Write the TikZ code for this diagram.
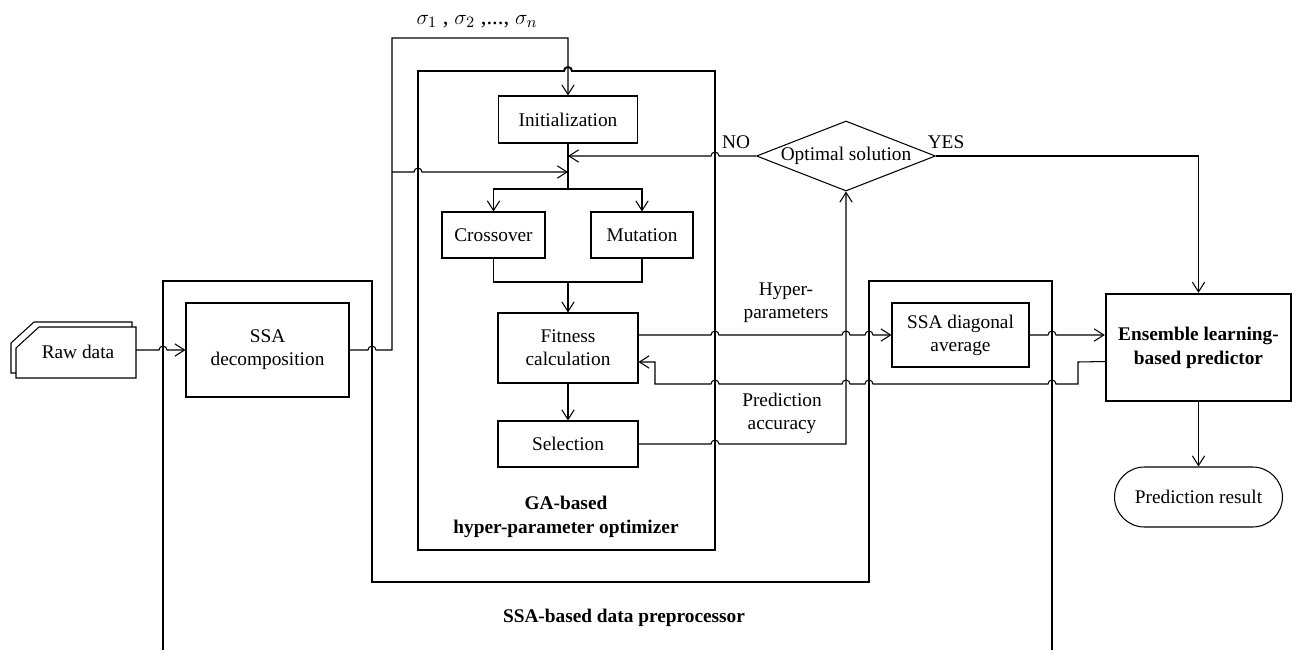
\documentclass[tikz,border=0pt]{standalone}
\usepackage{fontspec}
\setmainfont{Liberation Serif}
\usetikzlibrary{arrows.meta,shapes.geometric}
\newcommand{\hopr}[2]{-- (#1-4,#2) arc[start angle=180,end angle=0,radius=2.27pt]}
\newcommand{\hopl}[2]{-- (#1+4,#2) arc[start angle=0,end angle=180,radius=2.27pt]}
\begin{document}
\begin{tikzpicture}[x=0.02cm,y=-0.02cm,
  font=\fontsize{11}{13}\selectfont,
  box/.style={draw, line width=0.6pt, align=center, inner sep=2pt},
  thinline/.style={line width=0.6pt},
  arr/.style={line width=0.6pt, -{Straight Barb[length=5.5pt,width=7pt]}},
  frame/.style={line width=1.1pt},
  lbl/.style={align=center},
  blbl/.style={align=center, font=\fontsize{11}{13.5}\selectfont\bfseries}]
\useasboundingbox (0,0) rectangle (1296,650);

% frames
\draw[frame] (163,650) -- (163,281) -- (372,281) -- (372,582) -- (869,582) -- (869,281) -- (1052,281) -- (1052,650);
\draw[frame] (418,550) -- (418,71) \hopr{568}{71} -- (715,71) -- (715,550) -- cycle;

% nodes
\node[box, minimum width=2.78cm, minimum height=0.94cm] (init) at (568,119.5) {Initialization};
\node[box, minimum width=2.06cm, minimum height=0.92cm] (cross) at (493.5,235) {Crossover};
\node[box, minimum width=2.04cm, minimum height=0.92cm] (mut) at (642,235) {Mutation};
\node[box, minimum width=2.8cm, minimum height=1.4cm] (fit) at (568,348) {Fitness\\calculation};
\node[box, minimum width=2.8cm, minimum height=0.92cm] (sel) at (568,444) {Selection};
\node[box, minimum width=3.26cm, minimum height=1.88cm] (ssa) at (267.5,350) {SSA\\decomposition};
\node[box, minimum width=2.74cm, minimum height=1.28cm] (diag) at (960.5,335) {SSA diagonal\\average};
\node[box, line width=1.4pt, font=\fontsize{11}{13.6}\selectfont\bfseries, minimum width=3.7cm, minimum height=2.14cm] (ens) at (1198.5,347.5) {Ensemble learning-\\based predictor};
\node[box, rounded corners=0.6cm, minimum width=3.36cm, minimum height=1.2cm] (res) at (1198.5,497) {Prediction result};
\node[draw, diamond, aspect=2.56, minimum width=3.58cm, minimum height=1.4cm, inner sep=0pt, line width=0.6pt] (dec) at (846,156) {Optimal solution};

% raw data
\draw[thinline, fill=white] (34,322) -- (132,322) -- (132,373) -- (11,373) -- (11,343) -- cycle;
\draw[thinline, fill=white] (39,327) -- (136,327) -- (136,378) -- (16,378) -- (16,348) -- cycle;
\node (raw) at (78,352) {Raw data};
\coordinate (rawout) at (136,350);

% junction coordinates
\coordinate (j0) at (392,172);
\coordinate (j1) at (568,172);
\coordinate (j2) at (568,156);
\coordinate (split) at (568,189);
\coordinate (merge) at (568,282);

% connectors
\draw[arr] (rawout) \hopr{163}{350} -- (ssa.west);
\draw[arr] (ssa.east) \hopr{372}{350} -- (392,350) -- (392,38) -- (568,38) -- (init.north);
\draw[arr] (j0) \hopr{418}{172} -- (j1);
\draw[line width=1.1pt] (init.south) -- (split);
\draw[arr] (split) -| (cross.north);
\draw[arr] (split) -| (mut.north);
\draw[thinline] (cross.south) |- (merge) -| (mut.south);
\draw[arr] (merge) -- (fit.north);
\draw[arr] (fit.south) -- (sel.north);
\draw[arr] (fit.east |- diag.west) \hopr{715}{335} \hopr{846}{335} \hopr{869}{335} -- (diag.west);
\draw[arr] (diag.east) \hopr{1052}{335} -- (ens.west |- diag.east);
\draw[arr] ([yshift=-0.28cm]ens.west) -- (1078,362) -- (1078,384) \hopl{1052}{384} \hopl{869}{384} \hopl{846}{384} \hopl{715}{384} -- (655,384) -- (655,362) -- ([yshift=-0.28cm]fit.east);
\draw[arr] (sel.east) \hopr{715}{444} -- (846,444) -- (dec.south);
\draw[arr] (dec.west) \hopl{715}{156} -- (j2);
\draw[arr] (dec.east) -| (ens.north);
\draw[arr] (ens.south) -- (res.north);

% labels
\node[lbl] (no) at (736,142) {NO};
\node[lbl] (yes) at (946,142) {YES};
\node[lbl] (hp) at (786,303) {Hyper-\\parameters};
\node[lbl] (pa) at (782,413) {Prediction\\accuracy};
\node[blbl] (ga) at (566,517) {GA-based\\hyper-parameter optimizer};
\node[blbl] (pre) at (624,618) {SSA-based data preprocessor};
\node (sig) at (477,22) {\fontsize{13}{15}\selectfont $\sigma_1$ , $\sigma_2$ ,..., $\sigma_n$};
\end{tikzpicture}
\end{document}
